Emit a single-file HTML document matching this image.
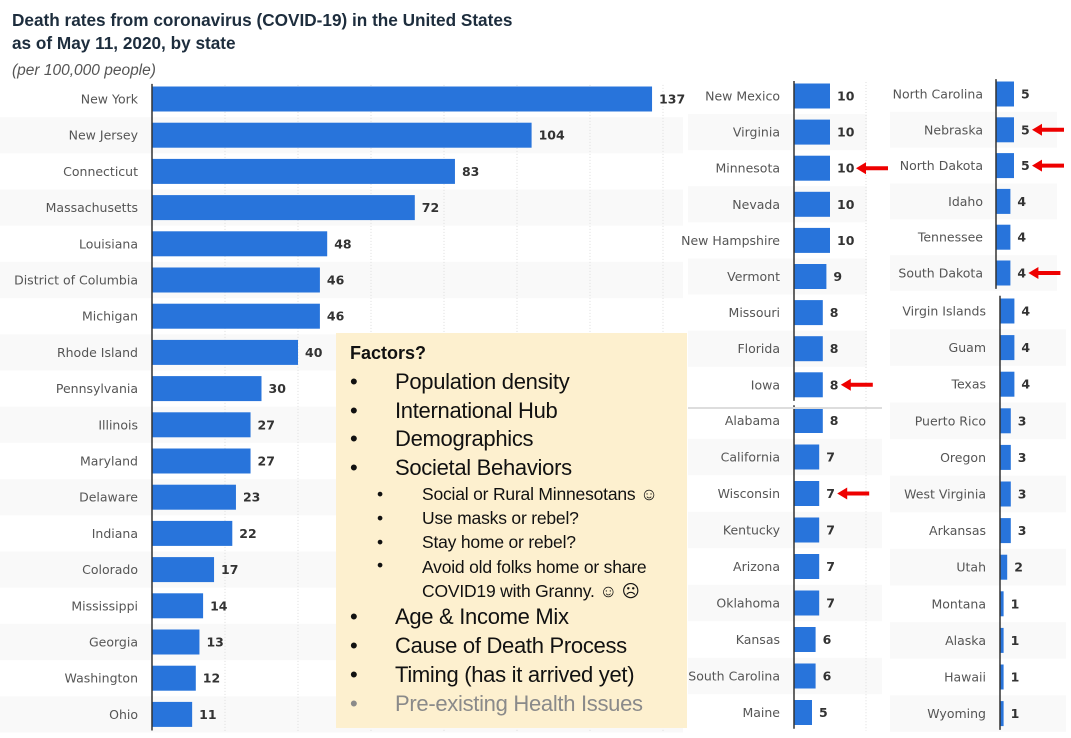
<!DOCTYPE html>
<html><head><meta charset="utf-8">
<style>
body{margin:0;background:#fff;width:1071px;height:738px;overflow:hidden;font-family:"Liberation Sans",sans-serif}
svg{display:block}
.lbl{font-size:12.5px;fill:#555;text-anchor:end;font-family:"DejaVu Sans","Liberation Sans",sans-serif}
.val{font-size:12.5px;fill:#333;font-weight:bold;font-family:"DejaVu Sans","Liberation Sans",sans-serif}
</style></head><body>
<svg id="chart" width="1071" height="738" xmlns="http://www.w3.org/2000/svg">
<text x="12" y="26" font-size="17.2" font-weight="bold" fill="#1d2d3d" font-family="Liberation Sans, sans-serif">Death rates from coronavirus (COVID-19) in the United States</text>
<text x="12" y="49" font-size="17.2" font-weight="bold" fill="#1d2d3d" font-family="Liberation Sans, sans-serif">as of May 11, 2020, by state</text>
<text x="12" y="75" font-size="15.5" font-style="italic" fill="#555" font-family="Liberation Sans, sans-serif">(per 100,000 people)</text>
<g id="panels"></g>
</svg>
<script>
const NS="http://www.w3.org/2000/svg";
const states1=["New York","New Jersey","Connecticut","Massachusetts","Louisiana","District of Columbia","Michigan","Rhode Island","Pennsylvania","Illinois","Maryland","Delaware","Indiana","Colorado","Mississippi","Georgia","Washington","Ohio"];
const values1=[137,104,83,72,48,46,46,40,30,27,27,23,22,17,14,13,12,11];
const states2a=["New Mexico","Virginia","Minnesota","Nevada","New Hampshire","Vermont","Missouri","Florida","Iowa"];
const values2a=[10,10,10,10,10,9,8,8,8];
const states2b=["Alabama","California","Wisconsin","Kentucky","Arizona","Oklahoma","Kansas","South Carolina","Maine"];
const values2b=[8,7,7,7,7,7,6,6,5];
const states3a=["North Carolina","Nebraska","North Dakota","Idaho","Tennessee","South Dakota"];
const values3a=[5,5,5,4,4,4];
const states3b=["Virgin Islands","Guam","Texas","Puerto Rico","Oregon","West Virginia","Arkansas","Utah","Montana","Alaska","Hawaii","Wyoming"];
const values3b=[4,4,4,3,3,3,3,2,1,1,1,1];
const highlighted=["Minnesota","Iowa","Wisconsin","Nebraska","North Dakota","South Dakota"];
const gridTicks1=[20,40,60,80,100,120,140];

const G=document.getElementById('panels');
function mk(tag,attrs,parent){const e=document.createElementNS(NS,tag);for(const k in attrs)e.setAttribute(k,attrs[k]);(parent||G).appendChild(e);return e;}

function panel(name,cats,vals,L){
  const g=mk('g',{});
  
  
  const xs=v=>L.axis+v*L.scale;
  const ys=i=>L.y0+i*L.step;
  cats.forEach((c,i)=>{
    if(i%2===1){const b=mk('rect',{x:L.left,y:ys(i)-L.step/2,width:L.right-L.left,height:L.step,fill:'#f9f9f9'},g);
      
      }
  });
  (L.grid||[]).forEach(t=>{const l=mk('line',{x1:xs(t),x2:xs(t),y1:L.y0-L.step/2+4,y2:ys(cats.length-1)+L.step/2,stroke:'#ddd','stroke-dasharray':'1,2'},g);
    
    });
  cats.forEach((c,i)=>{
    const y=ys(i);
    const r=mk('rect',{x:L.axis,y:y-12.5,width:Math.max(2,vals[i]*L.scale),height:25,fill:'#2874db'},g);
    
    
    const t=mk('text',{x:L.labelX,y:y+4.5,class:'lbl'},g);t.textContent=c;
    
    
    const vx=Math.max(xs(vals[i])+7,L.axis+9);
    const v=mk('text',{x:vx,y:y+4.5,class:'val'},g);v.textContent=vals[i];
    
    
    if(highlighted.includes(c)){
      const ax=vx+(String(vals[i]).length*8)+3;
      const a=mk('path',{d:`M${ax} ${y} l10 -6 v4 h22 v4 h-22 v4 z`,fill:'#e00'},g);
      
      
    }
  });
  const ax=mk('line',{x1:L.axis,x2:L.axis,y1:L.y0-L.step/2+3,y2:ys(cats.length-1)+L.step/2-2,stroke:'#333','stroke-width':1.5},g);
  
  
}
panel('panel-top-states',states1,values1,{axis:152,left:0,y0:99,step:36.2,labelX:138,scale:3.65,right:683,grid:gridTicks1});
panel('panel-mid-upper',states2a,values2a,{axis:794,left:688,y0:96,step:36.1,labelX:780,scale:3.6,right:867,grid:[20]});
panel('panel-mid-lower',states2b,values2b,{axis:794,left:688,y0:420.5,step:36.5,labelX:780,scale:3.6,right:882,grid:[20]});
panel('panel-right-upper',states3a,values3a,{axis:996,left:890,y0:94,step:35.8,labelX:983,scale:3.6,right:1057});
panel('panel-right-lower',states3b,values3b,{axis:1000,left:890,y0:311,step:36.6,labelX:986,scale:3.6,right:1066});
const sep=mk('line',{x1:688,x2:882,y1:408,y2:408,stroke:'#ddd','stroke-width':2});


</script>
<div style="position:absolute;left:336px;top:333px;width:351px;height:395px;background:#fdf0cf;font-family:'Liberation Sans','DejaVu Sans',sans-serif;color:#111">
<div style="position:absolute;left:14px;top:10px;font-size:18px;font-weight:bold">Factors?</div>
<div style="position:absolute;left:0;top:0;width:351px;font-size:22px;letter-spacing:-0.3px">
<div style="position:absolute;top:36px;left:14px;white-space:nowrap">•<span style="position:absolute;left:45px">Population density</span></div>
<div style="position:absolute;top:65px;left:14px;white-space:nowrap">•<span style="position:absolute;left:45px">International Hub</span></div>
<div style="position:absolute;top:93px;left:14px;white-space:nowrap">•<span style="position:absolute;left:45px">Demographics</span></div>
<div style="position:absolute;top:122px;left:14px;white-space:nowrap">•<span style="position:absolute;left:45px">Societal Behaviors</span></div>
<div style="font-size:17.5px;letter-spacing:-0.2px">
<div style="position:absolute;top:151px;left:41px;white-space:nowrap">•<span style="position:absolute;left:45px">Social or Rural Minnesotans ☺</span></div>
<div style="position:absolute;top:175px;left:41px;white-space:nowrap">•<span style="position:absolute;left:45px">Use masks or rebel?</span></div>
<div style="position:absolute;top:199px;left:41px;white-space:nowrap">•<span style="position:absolute;left:45px">Stay home or rebel?</span></div>
<div style="position:absolute;top:222px;left:41px;white-space:nowrap">•<span style="position:absolute;left:45px;line-height:24px">Avoid old folks home or share<br>COVID19 with Granny. ☺ ☹</span></div>
</div>
<div style="position:absolute;top:271px;left:14px;white-space:nowrap">•<span style="position:absolute;left:45px">Age &amp; Income Mix</span></div>
<div style="position:absolute;top:300px;left:14px;white-space:nowrap">•<span style="position:absolute;left:45px">Cause of Death Process</span></div>
<div style="position:absolute;top:329px;left:14px;white-space:nowrap">•<span style="position:absolute;left:45px">Timing (has it arrived yet)</span></div>
<div style="position:absolute;top:358px;left:14px;white-space:nowrap;color:#8a8a8a">•<span style="position:absolute;left:45px">Pre-existing Health Issues</span></div>
</div>
</div>
</body></html>
